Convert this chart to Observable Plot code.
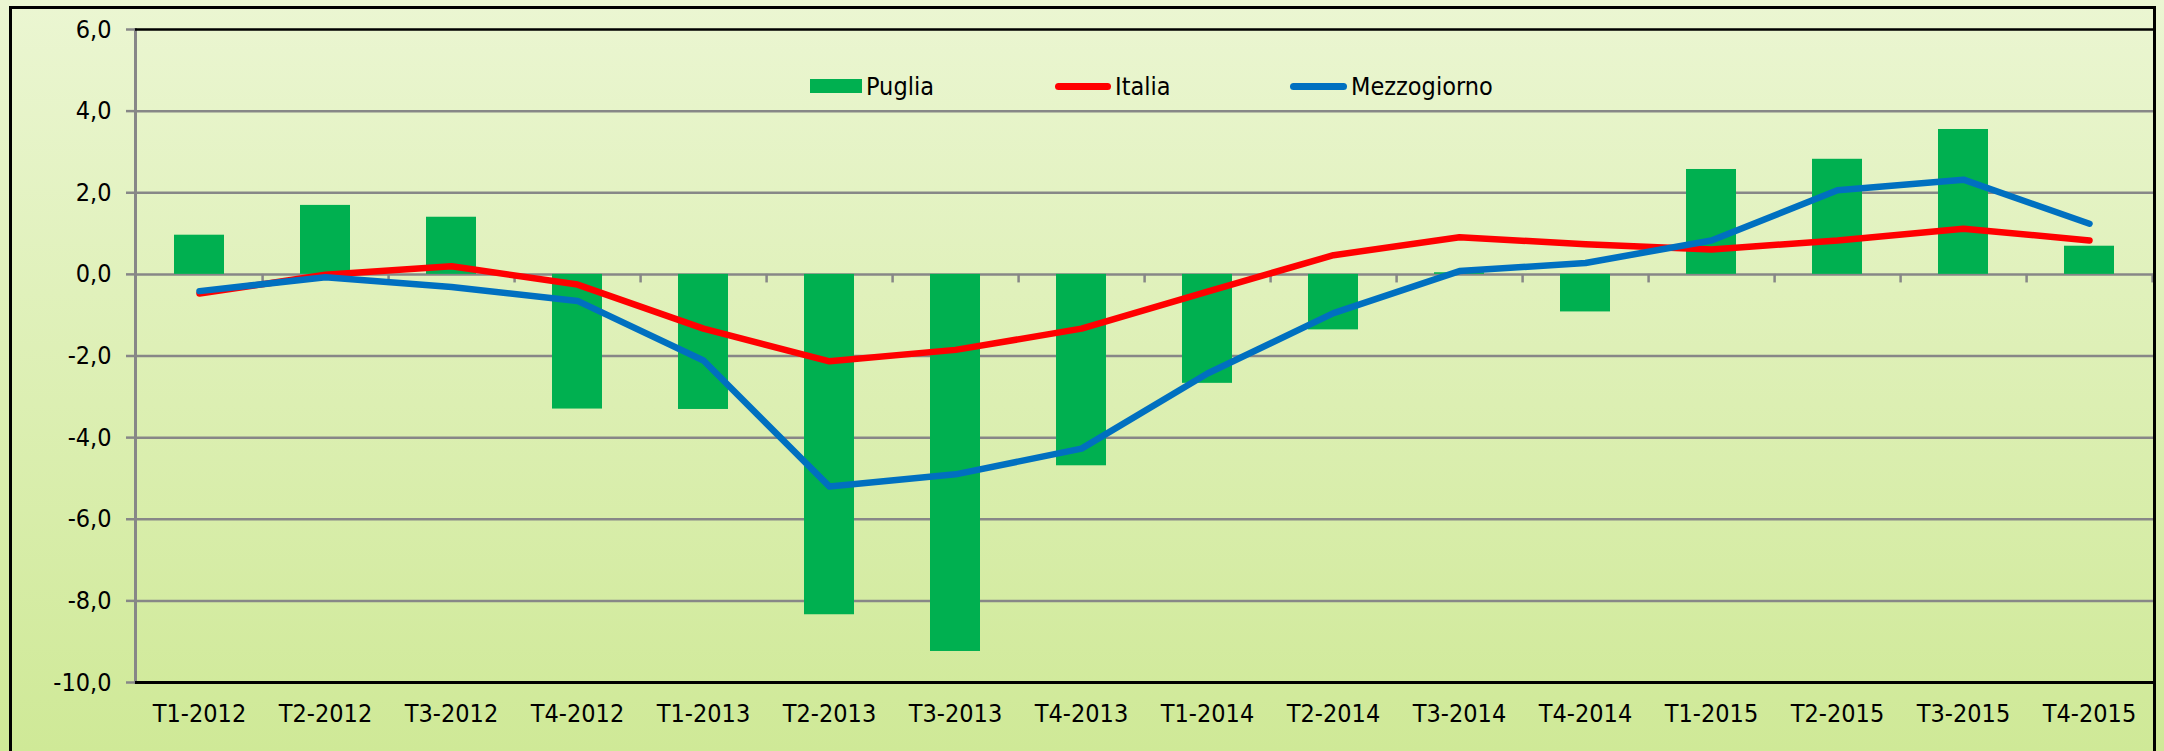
<!DOCTYPE html>
<html><head><meta charset="utf-8">
<script src="https://cdn.jsdelivr.net/npm/d3@7"></script>
<script src="https://cdn.jsdelivr.net/npm/@observablehq/plot@0.6"></script>
<style>
html,body{margin:0;padding:0;overflow:hidden;background:#fff;}
#wrap{position:relative;width:2164px;height:751px;overflow:hidden;
  background:linear-gradient(to bottom,#ebf6d2,#cfe997);
  font-family:"DejaVu Sans Condensed","DejaVu Sans",sans-serif;font-stretch:condensed;}
#border{position:absolute;left:9px;top:6px;width:2147px;height:820px;border:3px solid #000;box-sizing:border-box;pointer-events:none;}
.leg{position:absolute;top:70px;display:flex;align-items:center;font-size:25px;color:#000;height:32px;}
.sw{display:inline-block;margin-right:4px;}
#chart svg{display:block;}
</style></head>
<body>
<div id="wrap">
  <div id="chart"></div>
  <div id="border"></div>
  <div class="leg" style="left:810px"><span class="sw" style="width:52px;height:14px;background:#00b050"></span>Puglia</div>
  <div class="leg" style="left:1055px"><span class="sw" style="width:56px;height:7px;border-radius:4px;background:#ff0000"></span>Italia</div>
  <div class="leg" style="left:1290px"><span class="sw" style="width:57px;height:7px;border-radius:4px;background:#0070c0"></span>Mezzogiorno</div>
</div>
<script>
const quarters = ["T1-2012","T2-2012","T3-2012","T4-2012","T1-2013","T2-2013","T3-2013","T4-2013",
  "T1-2014","T2-2014","T3-2014","T4-2014","T1-2015","T2-2015","T3-2015","T4-2015"];
const puglia = [0.96,1.69,1.40,-3.30,-3.31,-8.34,-9.24,-4.69,-2.67,-1.36,0.04,-0.92,2.57,2.82,3.55,0.69];
const italia = [-0.47,-0.01,0.20,-0.25,-1.33,-2.13,-1.85,-1.33,-0.42,0.47,0.91,0.74,0.61,0.83,1.12,0.83];
const mezzogiorno = [-0.41,-0.07,-0.31,-0.65,-2.11,-5.20,-4.90,-4.27,-2.43,-0.95,0.08,0.28,0.83,2.06,2.32,1.24];
const yTicks = [-10,-8,-6,-4,-2,0,2,4,6];
const gridTicks = [-8,-6,-4,-2,0,2,4];

const data = quarters.map((q,i)=>({q, puglia:puglia[i], italia:italia[i], mezz:mezzogiorno[i]}));
const W=2164, H=751, ml=135, mr=10, mt=29, mb=69;
const step = (W-ml-mr)/quarters.length;
const fmt = d => d.toFixed(1).replace(".", ",");
const font = '"DejaVu Sans Condensed","DejaVu Sans",sans-serif';

const chart = Plot.plot({
  width:W, height:H, marginLeft:ml, marginRight:mr, marginTop:mt, marginBottom:mb,
  style:{background:"transparent", fontFamily:font, color:"#000", overflow:"visible"},
  x:{domain:quarters, paddingInner:0.6, paddingOuter:0.3, label:null},
  y:{domain:[-10,6], label:null},
  marks:[
    Plot.ruleY(gridTicks,{stroke:"#878787", strokeWidth:2.5}),
    Plot.barY(data,{x:"q", y:"puglia", fill:"#00b050"}),
    Plot.ruleX(quarters,{x:d=>d, y1:0, y2:-0.21, dx:step/2, stroke:"#878787", strokeWidth:2.5}),
    Plot.frame({anchor:"left", stroke:"#878787", strokeWidth:3}),
    Plot.ruleY([6],{stroke:"#000", strokeWidth:2.5}),
    Plot.ruleY([-10],{stroke:"#000", strokeWidth:3}),
    Plot.lineY(data,{x:"q", y:"italia", stroke:"#ff0000", strokeWidth:6.5, strokeLinecap:"round", strokeLinejoin:"round"}),
    Plot.lineY(data,{x:"q", y:"mezz", stroke:"#0070c0", strokeWidth:6.5, strokeLinecap:"round", strokeLinejoin:"round"}),
    Plot.axisY({ticks:yTicks, tickSize:9, tickPadding:15, tickFormat:fmt, fontSize:25, stroke:"#878787", strokeWidth:2.5, fill:"#000", label:null}),
    Plot.axisX({tickSize:0, tickPadding:22, fontSize:25, fill:"#000", label:null})
  ]
});
document.getElementById("chart").appendChild(chart);
</script>
</body></html>
